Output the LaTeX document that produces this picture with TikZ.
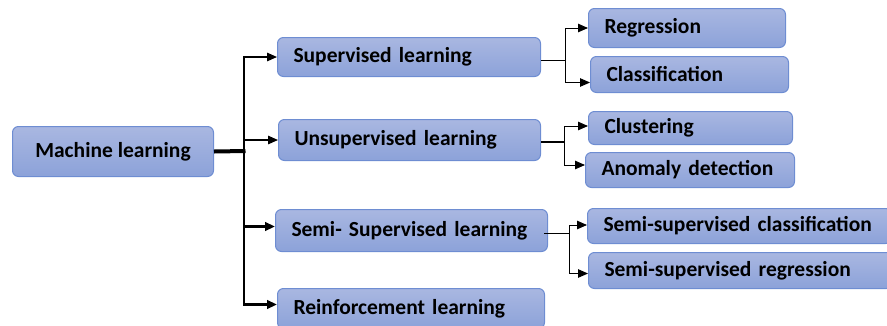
\documentclass[tikz,border=0pt]{standalone}
\usepackage{fontspec}
\setmainfont{Carlito}
\usetikzlibrary{arrows.meta,positioning}

\definecolor{boxtop}{HTML}{A9B7E1}
\definecolor{boxbot}{HTML}{8CA2D9}
\definecolor{boxline}{HTML}{6E8DD2}

\tikzset{
    box/.style={draw=boxline, line width=1pt, rounded corners=6pt,
        top color=boxtop, bottom color=boxbot, anchor=north west,
        inner xsep=16pt, inner ysep=0pt, align=left,
        font=\fontsize{21.5}{24}\selectfont\bfseries},
    tip/.style={-{Triangle[length=10pt,width=8.5pt]}},
}

\begin{document}
\begin{tikzpicture}[x=1pt,y=-1pt]
    \useasboundingbox (0,0) rectangle (887,325);
    \node[box, align=center, inner xsep=0pt, minimum width=201pt, minimum height=50pt] (ml) at (12,126) {Machine learning};
    \node[box, text width=231pt, minimum height=39pt] (sup) at (277,37) {Supervised learning};
    \node[box, text width=230pt, minimum height=41pt] (unsup) at (278,119) {Unsupervised learning};
    \node[box, text width=240pt, minimum height=42pt] (semi) at (275,209) {Semi- Supervised learning};
    \node[box, text width=235pt, minimum height=40pt] (reinf) at (277,288) {Reinforcement learning};
    \node[box, text width=165pt, minimum height=39pt] (reg) at (588,8) {Regression};
    \node[box, text width=166pt, minimum height=36pt] (cls) at (590,56) {Classification};
    \node[box, text width=172pt, minimum height=33pt] (clu) at (588,111) {Clustering};
    \node[box, text width=177pt, minimum height=35pt] (anom) at (585,152) {Anomaly detection};
    \node[box, text width=272pt, minimum height=35pt] (ssc) at (587,208) {Semi-supervised classification};
    \node[box, text width=272pt, minimum height=36pt] (ssr) at (588,252) {Semi-supervised regression};

    % main tree
    \coordinate (trunk) at (244,151);
    \draw[line width=4pt] (ml.east) -- ([xshift=1.5pt]trunk);
    \draw[tip, line width=1.5pt] (trunk) |- (sup.west);
    \draw[tip, line width=1.5pt] (trunk) |- (unsup.west);
    \draw[tip, line width=2.5pt] (trunk) |- ([yshift=4pt]semi.west);
    \draw[tip, line width=2.5pt] (trunk) |- ([yshift=4pt]reinf.west);

    % second level
    \draw[line width=1pt] ([yshift=-3pt]sup.east) -- ++(24,0) coordinate (b1);
    \draw[tip, line width=1pt] (b1) |- (reg.west);
    \draw[tip, line width=1pt] (b1) |- ([yshift=-8pt]cls.west);
    \draw[line width=2pt] ([yshift=-1.5pt]unsup.east) -- ++(23,0) coordinate (b2);
    \draw[tip, line width=1pt] (b2) |- ([yshift=2pt]clu.west);
    \draw[tip, line width=1pt] (b2) |- ([yshift=5pt]anom.west);
    \draw[line width=1pt] ([xshift=-4pt,yshift=-3pt]semi.east) -- ++(25,0) coordinate (b3);
    \draw[tip, line width=1pt] (b3) |- ([yshift=1pt]ssc.west);
    \draw[tip, line width=1pt] (b3) |- ([yshift=-3pt]ssr.west);
\end{tikzpicture}
\end{document}
